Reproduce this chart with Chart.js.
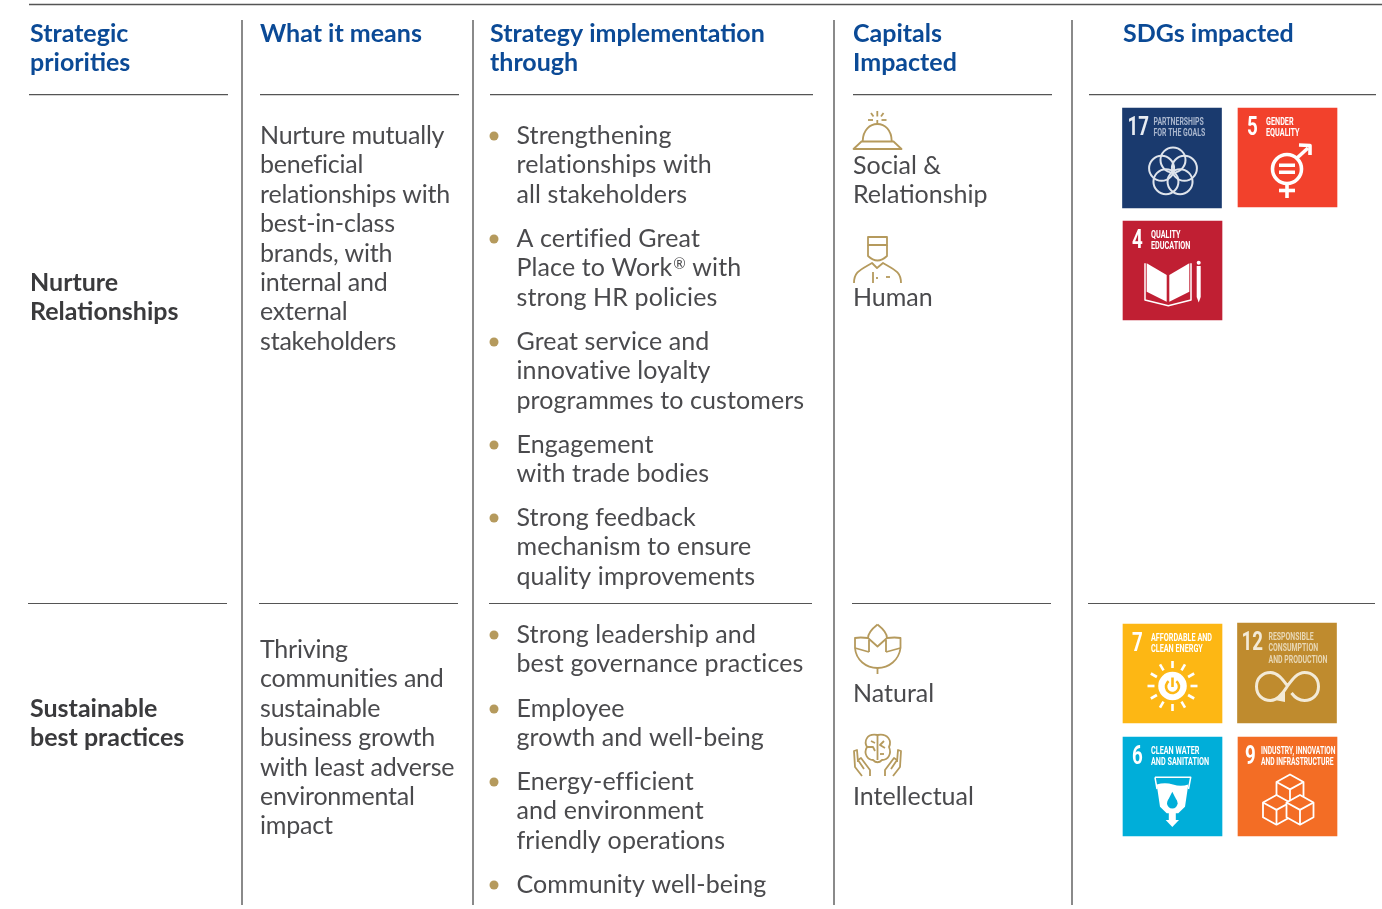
<!DOCTYPE html>
<html>
<head>
<meta charset="utf-8">
<title>Strategic priorities</title>
<script src="https://cdn.jsdelivr.net/npm/chart.js@4"></script>
<style>
html, body { margin: 0; padding: 0; background: #fff; overflow: hidden; }
canvas { display: block; }
</style>
</head>
<body>
<canvas id="chart" width="1382" height="909"></canvas>
<script>
// table content
const headers = [["Strategic", "priorities"], ["What it means"], ["Strategy implementation", "through"], ["Capitals", "Impacted"], ["SDGs impacted"]];
const priorities = [["Nurture", "Relationships"], ["Sustainable", "best practices"]];
const meanings = [
    ["Nurture mutually", "beneficial", "relationships with", "best-in-class", "brands, with", "internal and", "external", "stakeholders"],
    ["Thriving", "communities and", "sustainable", "business growth", "with least adverse", "environmental", "impact"]
];
const strategies = [
    ["Strengthening", "relationships with", "all stakeholders"],
    ["A certified Great", "Place to Work\u00AE with", "strong HR policies"],
    ["Great service and", "innovative loyalty", "programmes to customers"],
    ["Engagement", "with trade bodies"],
    ["Strong feedback", "mechanism to ensure", "quality improvements"],
    ["Strong leadership and", "best governance practices"],
    ["Employee", "growth and well-being"],
    ["Energy-efficient", "and environment", "friendly operations"],
    ["Community well-being"]
];
const capitals = [["Social &", "Relationship"], ["Human"], ["Natural"], ["Intellectual"]];
const sdgNumbers = ["17", "5", "4", "7", "12", "6", "9"];
const sdgLabels = [
    ["PARTNERSHIPS", "FOR THE GOALS"], ["GENDER", "EQUALITY"], ["QUALITY", "EDUCATION"],
    ["AFFORDABLE AND", "CLEAN ENERGY"], ["RESPONSIBLE", "CONSUMPTION", "AND PRODUCTION"],
    ["CLEAN WATER", "AND SANITATION"], ["INDUSTRY, INNOVATION", "AND INFRASTRUCTURE"]
];
const sdgColors = ["#1a3a6e", "#f2412c", "#c01f33", "#fdb714", "#bf8b2e", "#00aed9", "#f36d25"];

// layout
const LINE = 29.4;
const BLUE = "#0b4a96", DARK = "#3a3a3c", BODY = "#4a4a4d", GOLD = "#b59a5d";
const BODY_FONT = "400 25px Lato", HEAD_FONT = "700 25px Lato";
const PAD = 4.5; // chart keeps this much room for the bullets, so the scales start there
const headerX = [30, 260, 490, 853, 1123];
const headerY = 42;
const priorityY = [291, 717];
const meaningX = 260, meaningY = [144, 658];
const strategyX = 516.5, bulletX = 494;
const strategyY = [144, 247, 350, 453, 526, 643, 717, 790, 893];
const capitalX = 853, capitalY = [174, 306, 702, 805];
const sdgX = [1172, 1287.5, 1172.5, 1172.5, 1287, 1172.5, 1287.5];
const sdgTop = [108, 108, 221, 624, 623, 737, 737];
const sdgBottom = [208, 207, 320, 723, 723, 836, 836];
const TILE_WIDTH = 99;
const verticals = [242, 473, 834, 1072];
const rules = [
    { y: 4.5, spans: [[29, 1382]], color: "#555", width: 1.3 },
    { y: 94.7, spans: [[29, 228], [260, 459], [490, 813], [853, 1052], [1089, 1376]], color: "#555", width: 1.2 },
    { y: 603.5, spans: [[28, 227], [259, 458], [489, 812], [852, 1051], [1088, 1375]], color: "#555", width: 1.2 }
];

function lineDataset(points, color, width) {
    return { type: "scatter", data: points, showLine: true, borderColor: color, borderWidth: width, pointRadius: 0, clip: false };
}

const datasets = [];
verticals.forEach(x => datasets.push(lineDataset([{ x: x, y: 20 }, { x: x, y: 905 }], "#8a8a8a", 2)));
rules.forEach(r => r.spans.forEach(s => datasets.push(lineDataset([{ x: s[0], y: r.y }, { x: s[1], y: r.y }], r.color, r.width))));
datasets.push({
    type: "scatter",
    data: strategyY.map(y => ({ x: bulletX, y: y - 8 })),
    pointRadius: 4.5,
    pointBackgroundColor: GOLD,
    pointBorderWidth: 0,
    clip: false
});
datasets.push({
    type: "bar",
    data: sdgX.map((x, i) => ({ x: x, y: [sdgTop[i], sdgBottom[i]] })),
    barThickness: TILE_WIDTH,
    grouped: false,
    backgroundColor: sdgColors,
    borderWidth: 0,
    clip: false
});

function path(ctx, pts, close) {
    ctx.beginPath();
    pts.forEach((p, i) => i ? ctx.lineTo(p[0], p[1]) : ctx.moveTo(p[0], p[1]));
    if (close) ctx.closePath();
}

function strokeLine(ctx, pts) {
    path(ctx, pts, false);
    ctx.stroke();
}

// sdg pictograms, in tile coordinates
const sdgIcons = [
    function (ctx) {
        ctx.strokeStyle = "#dfe4ec";
        ctx.lineWidth = 2;
        for (let i = 0; i < 5; i++) {
            const a = -Math.PI / 2 + i * 2 * Math.PI / 5;
            ctx.beginPath();
            ctx.arc(50.5 + 12 * Math.cos(a), 64 + 12 * Math.sin(a), 12.5, 0, 7);
            ctx.stroke();
        }
    },
    function (ctx) {
        ctx.strokeStyle = "#fff";
        ctx.fillStyle = "#fff";
        ctx.lineWidth = 3.6;
        ctx.beginPath();
        ctx.arc(49, 61, 14.5, 0, 7);
        ctx.stroke();
        ctx.fillRect(41, 55.5, 16, 3.5);
        ctx.fillRect(41, 62.5, 16, 3.5);
        strokeLine(ctx, [[49, 76], [49, 90]]);
        strokeLine(ctx, [[41, 82.5], [57, 82.5]]);
        strokeLine(ctx, [[59, 50], [70, 40]]);
        path(ctx, [[61, 37], [72, 37.5], [72, 47]], false);
        ctx.stroke();
    },
    function (ctx) {
        ctx.fillStyle = "#fff";
        ctx.strokeStyle = "#fff";
        ctx.lineWidth = 1.5;
        path(ctx, [[23.7, 42.3], [43.7, 54], [43.7, 80.7], [23.7, 70.7]], true);
        ctx.fill();
        path(ctx, [[46.3, 54], [66.3, 42.3], [66.3, 70.7], [46.3, 80.7]], true);
        ctx.fill();
        strokeLine(ctx, [[22, 42.3], [22, 79], [45.3, 84.7], [68, 79], [68, 42.3]]);
        path(ctx, [[73.7, 45], [77.7, 45], [77.7, 76], [75.7, 81.5], [73.7, 76]], true);
        ctx.fill();
        ctx.beginPath();
        ctx.arc(75.7, 41.7, 2, 0, 7);
        ctx.fill();
    },
    function (ctx) {
        const cx = 49.5, cy = 62;
        ctx.strokeStyle = "#fff";
        ctx.fillStyle = "#fff";
        ctx.lineWidth = 2.6;
        for (let i = 0; i < 12; i++) {
            const a = i * Math.PI / 6;
            strokeLine(ctx, [[cx + 18 * Math.cos(a), cy + 18 * Math.sin(a)], [cx + 25 * Math.cos(a), cy + 25 * Math.sin(a)]]);
        }
        ctx.beginPath();
        ctx.arc(cx, cy, 14.3, 0, 7);
        ctx.fill();
        ctx.strokeStyle = sdgColors[3];
        ctx.lineWidth = 2.6;
        ctx.beginPath();
        ctx.arc(cx, cy + 0.5, 6.5, -Math.PI * 0.3, Math.PI * 1.3);
        ctx.stroke();
        strokeLine(ctx, [[cx, cy - 8.5], [cx, cy + 1]]);
    },
    function (ctx) {
        ctx.strokeStyle = "#f3ead6";
        ctx.fillStyle = "#f3ead6";
        ctx.lineWidth = 3;
        ctx.beginPath();
        ctx.moveTo(50, 63);
        ctx.bezierCurveTo(45, 56, 40, 49.5, 33, 49.5);
        ctx.bezierCurveTo(25, 49.5, 19, 55, 19, 63.5);
        ctx.bezierCurveTo(19, 72, 25, 77.5, 33, 77.5);
        ctx.bezierCurveTo(40, 77.5, 45, 71, 50, 63);
        ctx.bezierCurveTo(55, 56, 60, 49.5, 67, 49.5);
        ctx.bezierCurveTo(75, 49.5, 81, 55, 81, 63.5);
        ctx.bezierCurveTo(81, 72, 75, 77.5, 67, 77.5);
        ctx.bezierCurveTo(61, 77.5, 57, 74, 54, 70);
        ctx.stroke();
        path(ctx, [[47.5, 68], [47.5, 79], [37.5, 77]], true);
        ctx.fill();
    },
    function (ctx) {
        ctx.strokeStyle = "#fff";
        ctx.fillStyle = "#fff";
        ctx.lineWidth = 1.5;
        strokeLine(ctx, [[32, 40.3], [67.7, 40.3], [65.5, 52]]);
        strokeLine(ctx, [[32, 40.3], [34, 52]]);
        ctx.beginPath();
        ctx.moveTo(33.7, 47.5);
        ctx.quadraticCurveTo(42, 45, 50, 47.5);
        ctx.quadraticCurveTo(58, 50, 65.3, 47.5);
        ctx.lineTo(62, 69.7);
        ctx.lineTo(55.3, 76.3);
        ctx.lineTo(43.7, 76.3);
        ctx.lineTo(37, 69.7);
        ctx.closePath();
        ctx.fill();
        ctx.fillRect(45.8, 76, 7, 7);
        path(ctx, [[42.7, 83], [56, 83], [49.3, 90]], true);
        ctx.fill();
        ctx.fillStyle = sdgColors[5];
        ctx.beginPath();
        ctx.arc(49.3, 66.3, 5.3, 0, 7);
        ctx.fill();
        path(ctx, [[49.3, 54.7], [54, 64], [44.6, 64]], true);
        ctx.fill();
    },
    function (ctx) {
        ctx.strokeStyle = "#fff";
        ctx.fillStyle = sdgColors[6];
        ctx.lineWidth = 1.8;
        [[52, 37.5], [38.5, 58], [62, 58]].forEach(c => {
            const hw = 13.5, rh = hw * 0.55, h = hw * 1.1, x = c[0], y = c[1];
            path(ctx, [[x, y], [x + hw, y + rh], [x + hw, y + rh + h], [x, y + 2 * rh + h], [x - hw, y + rh + h], [x - hw, y + rh]], true);
            ctx.fill();
            ctx.stroke();
            strokeLine(ctx, [[x - hw, y + rh], [x, y + 2 * rh], [x + hw, y + rh]]);
            strokeLine(ctx, [[x, y + 2 * rh], [x, y + 2 * rh + h]]);
        });
    }
];

// capital icons, in page coordinates of the column
function bellIcon(ctx) {
    path(ctx, [[853.5, 149], [901.5, 149], [893.5, 141.5], [861.5, 141.5]], true);
    ctx.stroke();
    ctx.beginPath();
    ctx.moveTo(862.7, 141);
    ctx.bezierCurveTo(863, 130, 870, 124, 877.3, 124);
    ctx.bezierCurveTo(885, 124, 891.5, 130, 891.7, 141);
    ctx.stroke();
    strokeLine(ctx, [[877.3, 120], [877.3, 124]]);
    strokeLine(ctx, [[877.3, 111], [877.3, 116.5]]);
    strokeLine(ctx, [[871, 113], [873.5, 116.5]]);
    strokeLine(ctx, [[883.5, 113], [881, 116.5]]);
    strokeLine(ctx, [[868, 120], [873, 120]]);
    strokeLine(ctx, [[881.5, 120], [886.5, 120]]);
}
function humanIcon(ctx) {
    path(ctx, [[868, 237], [887, 237], [887, 245], [868, 245]], true);
    ctx.stroke();
    ctx.beginPath();
    ctx.moveTo(868, 245);
    ctx.lineTo(868, 256);
    ctx.quadraticCurveTo(877.5, 265, 887, 256);
    ctx.lineTo(887, 245);
    ctx.stroke();
    ctx.beginPath();
    ctx.moveTo(854, 283);
    ctx.bezierCurveTo(854, 272, 860, 270, 872, 263);
    ctx.lineTo(877, 268);
    ctx.lineTo(883, 263);
    ctx.bezierCurveTo(895, 270, 901, 272, 901, 283);
    ctx.stroke();
    strokeLine(ctx, [[873, 272], [873, 283]]);
    strokeLine(ctx, [[886, 277], [890, 277]]);
    strokeLine(ctx, [[877, 277], [877, 279]]);
}
function lotusIcon(ctx) {
    ctx.beginPath();
    ctx.moveTo(877.5, 624.5);
    ctx.quadraticCurveTo(868, 632, 868, 638);
    ctx.lineTo(877.5, 646.5);
    ctx.lineTo(887, 638);
    ctx.quadraticCurveTo(887, 632, 877.5, 624.5);
    ctx.stroke();
    ctx.beginPath();
    ctx.moveTo(868, 638);
    ctx.quadraticCurveTo(860, 637, 855, 638);
    ctx.lineTo(855, 648);
    ctx.bezierCurveTo(856, 660, 866, 668, 877.5, 668);
    ctx.bezierCurveTo(889, 668, 899, 660, 900.5, 648);
    ctx.lineTo(900.5, 638);
    ctx.quadraticCurveTo(895, 637, 887, 638);
    ctx.stroke();
    strokeLine(ctx, [[877.5, 668], [877.5, 674]]);
    strokeLine(ctx, [[855, 648], [869, 652]]);
    strokeLine(ctx, [[900.5, 648], [886, 652]]);
    strokeLine(ctx, [[869, 652], [869, 640]]);
    strokeLine(ctx, [[886, 652], [886, 640]]);
}
function brainIcon(ctx) {
    ctx.beginPath();
    ctx.moveTo(877.5, 735);
    ctx.bezierCurveTo(866, 733, 864, 742, 867, 747);
    ctx.bezierCurveTo(863, 754, 868, 760, 873, 760);
    ctx.bezierCurveTo(876, 763, 879, 763, 882, 760);
    ctx.bezierCurveTo(888, 760, 892, 754, 889, 747);
    ctx.bezierCurveTo(892, 741, 888, 733, 877.5, 735);
    ctx.closePath();
    ctx.stroke();
    strokeLine(ctx, [[877.5, 735], [877.5, 760]]);
    strokeLine(ctx, [[867, 747], [873, 747], [875, 751]]);
    strokeLine(ctx, [[871, 741], [875, 743]]);
    strokeLine(ctx, [[884, 741], [880, 745], [885, 748]]);
    strokeLine(ctx, [[880, 754], [884, 754]]);
    // hands
    strokeLine(ctx, [[862, 776], [855, 767], [854, 751], [857, 750], [858, 762]]);
    strokeLine(ctx, [[870, 776], [870, 770], [861, 758], [858, 760], [864, 769]]);
    strokeLine(ctx, [[893, 776], [900, 767], [901, 751], [898, 750], [897, 762]]);
    strokeLine(ctx, [[885, 776], [885, 770], [894, 758], [897, 760], [891, 769]]);
}
const capitalIcons = [bellIcon, humanIcon, lotusIcon, brainIcon];

// the registered mark sits small and raised in the picture
function fillLine(ctx, text, x, y, font) {
    const parts = text.split("\u00AE");
    if (parts.length === 1) {
        ctx.fillText(text, x, y);
        return;
    }
    ctx.fillText(parts[0], x, y);
    const markX = x + ctx.measureText(parts[0]).width + 1;
    ctx.font = "400 15px Lato";
    ctx.fillText("\u00AE", markX, y - 7);
    const restX = markX + ctx.measureText("\u00AE").width;
    ctx.font = font;
    ctx.fillText(parts[1], restX, y);
}

function drawLines(ctx, sx, sy, lines, x, y, font, color, spacing) {
    ctx.font = font;
    ctx.fillStyle = color;
    ctx.letterSpacing = spacing || "0px";
    lines.forEach((t, i) => fillLine(ctx, t, sx.getPixelForValue(x), sy.getPixelForValue(y + i * LINE), font));
    ctx.letterSpacing = "0px";
}

// the sdg lettering is a condensed face, no such font here so squeeze Roboto
function narrowText(ctx, text, x, y, squeeze) {
    ctx.save();
    ctx.translate(x, y);
    ctx.scale(squeeze, 1);
    ctx.fillText(text, 0, 0);
    ctx.restore();
}

const tableText = {
    id: "tableText",
    afterDatasetsDraw(chart) {
        const ctx = chart.ctx, sx = chart.scales.x, sy = chart.scales.y;
        ctx.save();
        ctx.textAlign = "left";
        ctx.textBaseline = "alphabetic";
        headers.forEach((h, i) => drawLines(ctx, sx, sy, h, headerX[i], headerY, HEAD_FONT, BLUE));
        priorities.forEach((p, i) => drawLines(ctx, sx, sy, p, headerX[0], priorityY[i], HEAD_FONT, DARK));
        meanings.forEach((m, i) => drawLines(ctx, sx, sy, m, meaningX, meaningY[i], BODY_FONT, BODY, "-0.2px"));
        strategies.forEach((s, i) => drawLines(ctx, sx, sy, s, strategyX, strategyY[i], BODY_FONT, BODY, "0.1px"));
        capitals.forEach((c, i) => drawLines(ctx, sx, sy, c, capitalX, capitalY[i], BODY_FONT, BODY));

        ctx.strokeStyle = GOLD;
        ctx.lineWidth = 1.8;
        ctx.lineJoin = "round";
        capitalIcons.forEach(draw => draw(ctx));

        sdgNumbers.forEach((num, i) => {
            const left = sx.getPixelForValue(sdgX[i]) - TILE_WIDTH / 2;
            const top = sy.getPixelForValue(sdgTop[i]);
            ctx.save();
            ctx.translate(left, top);
            const faded = i === 0 || i === 4;
            ctx.fillStyle = faded ? (i === 0 ? "#e8ecf2" : "#f3ead6") : "#fff";
            ctx.font = "700 26px Roboto";
            const numX = i === 0 ? 5 : i === 4 ? 4 : num === "9" ? 7 : 9;
            narrowText(ctx, num, numX, 27, 0.72);
            ctx.font = "700 10.5px Roboto";
            ctx.fillStyle = faded ? (i === 0 ? "#a9b6cd" : "#e8d7b4") : "#fff";
            const labelX = i === 0 ? 31 : num === "12" ? 31 : num === "9" ? 23 : 28;
            const squeeze = faded ? 0.66 : i === 6 ? 0.64 : 0.69;
            sdgLabels[i].forEach((t, j) => narrowText(ctx, t, labelX, 16.5 + j * 11.5, squeeze));
            sdgIcons[i](ctx);
            ctx.restore();
        });
        ctx.restore();
    }
};

new Chart(document.getElementById("chart"), {
    type: "scatter",
    data: { datasets: datasets },
    options: {
        responsive: false,
        animation: false,
        layout: { padding: 0 },
        plugins: { legend: { display: false }, tooltip: { enabled: false }, title: { display: false } },
        scales: {
            x: { type: "linear", min: PAD, max: 1382 - PAD, offset: false, display: false },
            y: { type: "linear", min: PAD, max: 909 - PAD, reverse: true, display: false }
        }
    },
    plugins: [tableText]
});
</script>
</body>
</html>
